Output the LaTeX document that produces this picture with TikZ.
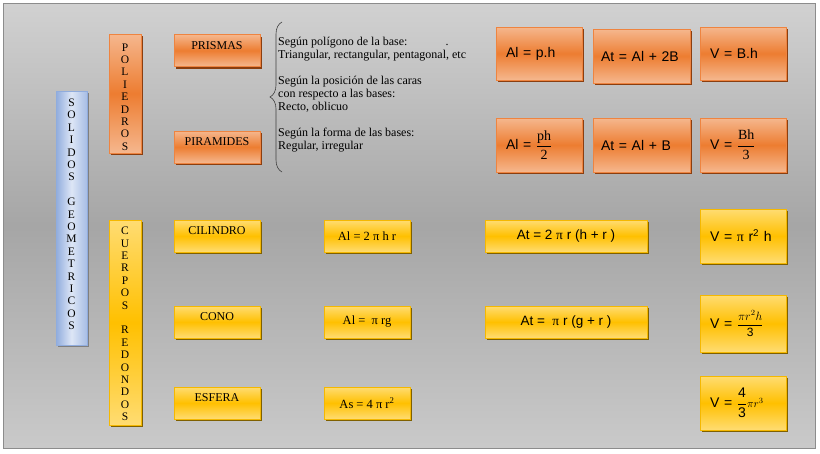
\documentclass[tikz,border=0pt]{standalone}
\usepackage{fontspec}
\usepackage{amsmath}
\setmainfont{Liberation Serif}
\setsansfont{Liberation Sans}
\usetikzlibrary{shadows,decorations.pathreplacing}
\definecolor{claroNar}{HTML}{F5B78E}
\definecolor{medioNar}{HTML}{ED7D31}
\definecolor{borNar}{HTML}{EE8440}
\definecolor{sombraNar}{HTML}{8B3E0F}
\definecolor{claroAma}{HTML}{FFDC72}
\definecolor{medioAma}{HTML}{FFC000}
\definecolor{borAma}{HTML}{F5B800}
\definecolor{sombraAma}{HTML}{7F6000}
\definecolor{claroAzu}{HTML}{DDE6F6}
\definecolor{oscAzu}{HTML}{90ACDD}
\definecolor{sombraAzu}{HTML}{7F7F7F}
\tikzset{columna/.style 2 args={path picture={
  \node[anchor=north, inner sep=0pt, align=center, font=\fontsize{11.5}{12.4}\selectfont]
    (letras) at ([yshift=-#1]path picture bounding box.north) {#2};}}}

\begin{document}
\begin{tikzpicture}[x=1pt, y=-1pt, auto]
        \tikzstyle{caja}=[rectangle, inner sep=0pt, line width=0.8pt, align=center];
        \tikzstyle{naranja}=[caja, draw=borNar, top color=claroNar, bottom color=claroNar, middle color=medioNar, drop shadow={shadow xshift=2pt, shadow yshift=-2pt, fill=sombraNar, opacity=1}];
        \tikzstyle{amarilla}=[caja, draw=borAma, top color=claroAma, bottom color=claroAma, middle color=medioAma, drop shadow={shadow xshift=2pt, shadow yshift=-2pt, fill=sombraAma, opacity=1}];
        \tikzstyle{azul}=[caja, draw=oscAzu, left color=oscAzu, right color=oscAzu!70!claroAzu, middle color=claroAzu, drop shadow={shadow xshift=2pt, shadow yshift=-2pt, fill=sombraAzu, opacity=1}];
        \tikzstyle{titulo}=[font=\fontsize{12}{13}\selectfont, minimum width=86pt, minimum height=32pt, text height=8pt, text depth=11pt];
        \tikzstyle{chica}=[font=\fontsize{12.5}{14}\selectfont, minimum width=86pt, minimum height=32pt];
        \tikzstyle{formula}=[font=\sffamily\fontsize{14}{16}\selectfont, align=left, inner xsep=10pt, minimum height=53pt];

        % fondo
        \useasboundingbox (0,0) rectangle (820,453);
        \draw[draw=black!45, line width=0.8pt, top color=black!18, bottom color=black!21, middle color=black!35] (3,3) rectangle (815,448);

        % columnas de letras
        \node[azul, minimum width=31pt, minimum height=254pt, columna={-4pt}{S\\O\\L\\I\\D\\O\\S\\[12.4pt]G\\E\\O\\M\\E\\T\\R\\I\\C\\O\\S}] (solidos) at (71.5,218) {};
        \node[naranja, minimum width=32pt, minimum height=119pt, columna={3pt}{P\\O\\L\\I\\E\\D\\R\\O\\S}] (poliedros) at (125,93.5) {};
        \node[amarilla, minimum width=32pt, minimum height=205pt, columna={1pt}{C\\U\\E\\R\\P\\O\\S\\[12.4pt]R\\E\\D\\O\\N\\D\\O\\S}] (cuerpos) at (125,322.5) {};

        % poliedros
        \node[naranja, titulo] (prismas) at (217,50.5) {PRISMAS};
        \node[naranja, titulo] (piramides) at (217,147) {PIRAMIDES};
        \draw[black!75, line width=0.6pt, decorate, decoration={brace, amplitude=12pt}] (282,172) -- (282,22);
        \node[anchor=north west, inner sep=0pt, align=left, font=\fontsize{12}{13}\selectfont] (criterios) at (278,37)
          {Según polígono de la base:\hspace{38pt}.\\Triangular, rectangular, pentagonal, etc\\[13pt]
           Según la posición de las caras\\con respecto a las bases:\\Recto, oblicuo\\[13pt]
           Según la forma de las bases:\\Regular, irregular};

        \node[naranja, formula, text width=66pt, minimum height=53pt] (alPri) at (539,53.5) {Al = p.h};
        \node[naranja, formula, text width=81pt, inner xsep=8pt, minimum height=54pt] (atPri) at (641.5,56) {At = Al + 2B};
        \node[naranja, formula, text width=66pt, minimum height=53pt] (vPri) at (743,53.5) {V = B.h};
        \node[naranja, formula, text width=66pt, minimum height=54pt] (alPir) at (539,145) {Al = $\dfrac{\textrm{ph}}{\textrm{2}}$};
        \node[naranja, formula, text width=81pt, inner xsep=8pt, minimum height=54pt] (atPir) at (641.5,145) {At = Al + B};
        \node[naranja, formula, text width=66pt, minimum height=54pt] (vPir) at (743,145) {V = $\dfrac{\textrm{Bh}}{\textrm{3}}$};

        % cuerpos redondos
        \node[amarilla, titulo] (cilindro) at (217,236) {CILINDRO};
        \node[amarilla, titulo] (cono) at (217,322) {CONO};
        \node[amarilla, titulo] (esfera) at (217,403) {ESFERA};

        \node[amarilla, chica] (alCil) at (367,236) {Al = 2 π h r};
        \node[amarilla, chica] (alCon) at (367,322) {Al =~ π rg};
        \node[amarilla, chica] (asEsf) at (367,403) {As = 4 π r\textsuperscript{2}};

        \node[amarilla, chica, minimum width=162pt, font=\sffamily\fontsize{13.5}{15}\selectfont] (atCil) at (566,236) {At = 2 {\rmfamily π} r (h + r )};
        \node[amarilla, chica, minimum width=162pt, font=\sffamily\fontsize{13.5}{15}\selectfont] (atCon) at (566,322) {At =~ {\rmfamily π} r (g + r )};

        \node[amarilla, formula, text width=66pt, minimum height=54pt] (vCil) at (743,236) {V = {\rmfamily π} r\textsuperscript{2} h};
        \node[amarilla, formula, text width=66pt, minimum height=57pt] (vCon) at (743,323.5) {V = {\fontsize{12}{14}\selectfont$\dfrac{\pi r^{2}h}{\textsf{3}}$}};
        \node[amarilla, formula, text width=66pt, minimum height=54pt] (vEsf) at (743,403) {V = $\dfrac{\textsf{4}}{\textsf{3}}${\fontsize{11}{13}\selectfont$\pi r^{3}$}};
    \end{tikzpicture}
\end{document}
